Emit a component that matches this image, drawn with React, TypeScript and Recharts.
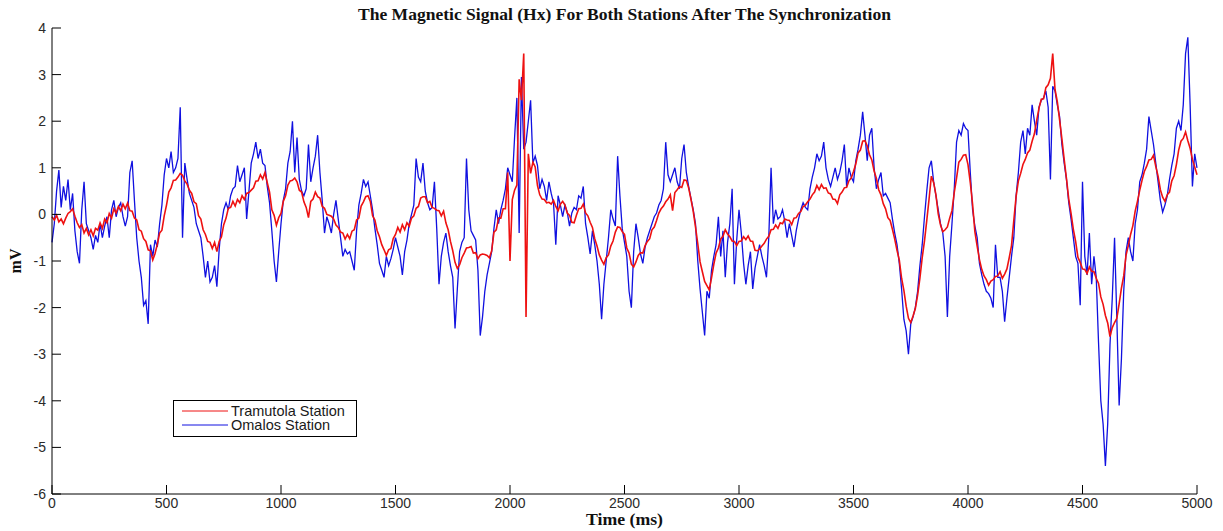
import { LineChart, Line, XAxis, YAxis } from "recharts";

// Hx signal, one sample every 10 ms from 0 to 5000 ms
const STEP_MS = 10;

const TRAMUTOLA = [
  -0.05, -0.12, -0.02, -0.16, -0.1, -0.2, -0.08, 0.02, 0.06, 0.12,
  -0.04, -0.18, -0.28, -0.22, -0.4, -0.3, -0.44, -0.33, -0.46, -0.3,
  -0.34, -0.18, -0.3, -0.1, -0.18, 0.02, -0.08, 0.12, 0.03, 0.17,
  0.08, 0.22, 0.12, 0.24, 0.08, 0.07, -0.08, -0.12, -0.33, -0.36,
  -0.52, -0.58, -0.76, -0.78, -0.98, -0.84, -0.64, -0.4, -0.34, -0.03,
  0.2, 0.48, 0.57, 0.73, 0.74, 0.8, 0.88, 0.84, 0.72, 0.65,
  0.52, 0.45, 0.27, 0.23, -0.03, -0.1, -0.33, -0.43, -0.58, -0.6,
  -0.73, -0.6, -0.8, -0.58, -0.48, -0.22, -0.08, 0.13, 0.15, 0.28,
  0.18, 0.32, 0.25, 0.4, 0.32, 0.45, 0.47, 0.52, 0.57, 0.71,
  0.72, 0.85, 0.76, 0.9, 0.68, 0.48, 0.1, -0.02, -0.23, -0.07,
  0.02, 0.28, 0.4, 0.63, 0.72, 0.73, 0.78, 0.7, 0.52, 0.48,
  0.27, 0.15, -0.07, 0.28, 0.33, 0.48, 0.38, 0.35, 0.17, 0.13,
  0.0, -0.02, -0.04, -0.1, -0.23, -0.28, -0.38, -0.4, -0.53, -0.43,
  -0.52, -0.36, -0.33, -0.12, -0.08, 0.18, 0.27, 0.38, 0.4, 0.28,
  -0.03, -0.12, -0.35, -0.48, -0.65, -0.76, -0.88, -0.76, -0.73, -0.52,
  -0.43, -0.28, -0.38, -0.22, -0.33, -0.18, -0.25, -0.08, -0.03, 0.13,
  0.17, 0.35, 0.38, 0.38, 0.25, 0.28, 0.15, 0.13, 0.09, 0.08,
  -0.03, 0.07, -0.18, -0.33, -0.58, -0.78, -1.03, -1.16, -1.08, -0.93,
  -0.83, -0.72, -0.71, -0.69, -0.83, -0.82, -0.95, -0.87, -0.85, -0.86,
  -0.88, -0.93, -0.78, -0.38, -0.33, -0.08, -0.08, 0.12, 0.12, 0.9,
  -1.0, 0.32, 0.52, 0.63, 2.9, 2.45, 3.45, -2.2, 1.3, 0.88,
  1.12, 1.02, 0.62, 0.42, 0.33, 0.32, 0.25, 0.26, 0.22, 0.3,
  0.17, 0.08, 0.22, 0.28, 0.2, 0.03, -0.02, -0.17, -0.18, -0.02,
  0.12, 0.13, 0.22, 0.03, -0.03, -0.17, -0.28, -0.52, -0.68, -0.87,
  -0.98, -1.07, -0.93, -0.87, -0.68, -0.57, -0.38, -0.27, -0.28, -0.37,
  -0.43, -0.72, -0.83, -1.07, -1.13, -1.02, -0.88, -0.82, -0.83, -0.67,
  -0.58, -0.52, -0.33, -0.27, -0.13, 0.03, 0.12, 0.18, 0.27, 0.33,
  0.42, 0.08, 0.47, 0.53, 0.6, 0.58, 0.74, 0.73, 0.57, 0.33,
  0.07, -0.27, -0.63, -1.02, -1.23, -1.44, -1.53, -1.62, -1.36, -1.07,
  -0.83, -0.72, -0.53, -0.47, -0.33, -0.42, -0.48, -0.57, -0.58, -0.67,
  -0.58, -0.57, -0.48, -0.54, -0.46, -0.57, -0.58, -0.77, -0.78, -0.74,
  -0.68, -0.62, -0.53, -0.47, -0.33, -0.32, -0.23, -0.3, -0.18, -0.2,
  -0.1, -0.12, -0.13, -0.22, -0.08, -0.07, 0.02, 0.06, 0.17, 0.2,
  0.27, 0.33, 0.42, 0.48, 0.62, 0.53, 0.64, 0.56, 0.57, 0.46,
  0.44, 0.33, 0.32, 0.23, 0.42, 0.48, 0.57, 0.58, 0.72, 0.78,
  0.92, 1.08, 1.32, 1.38, 1.57, 1.58, 1.47, 1.28, 1.17, 0.93,
  0.77, 0.53, 0.42, 0.23, 0.12, -0.07, -0.13, -0.32, -0.53, -0.77,
  -0.98, -1.37, -1.63, -1.97, -2.23, -2.32, -2.18, -2.02, -1.73, -1.37,
  -0.93, -0.57, -0.13, 0.33, 0.82, 0.68, 0.42, 0.01, -0.23, -0.37,
  -0.33, -0.27, -0.08, 0.08, 0.47, 0.78, 1.12, 1.18, 1.27, 1.28,
  1.07, 0.68, 0.22, -0.37, -0.68, -0.97, -1.18, -1.32, -1.4, -1.52,
  -1.43, -1.4, -1.33, -1.32, -1.23, -1.37, -1.28, -1.17, -0.93, -0.67,
  -0.13, 0.38, 0.72, 0.88, 1.07, 1.18, 1.32, 1.38, 1.57, 1.73,
  2.02, 2.28, 2.47, 2.48, 2.72, 2.78, 2.92, 3.45, 2.68, 2.42,
  2.03, 1.62, 1.18, 0.77, 0.33, 0.02, -0.32, -0.58, -0.92, -1.03,
  -1.17, -1.18, -1.27, -1.13, -1.22, -1.23, -1.37, -1.48, -1.77, -1.93,
  -2.17, -2.33, -2.62, -2.43, -2.32, -2.23, -1.92, -1.58, -1.32, -0.88,
  -0.67, -0.43, -0.24, 0.07, 0.28, 0.52, 0.73, 0.92, 1.03, 1.17,
  1.18, 1.27, 1.03, 0.82, 0.53, 0.37, 0.28, 0.42, 0.48, 0.72,
  0.83, 1.07, 1.38, 1.57, 1.63, 1.77, 1.58, 1.42, 1.18, 1.02,
  0.85,
];

const OMALOS = [
  -0.6, -0.2, 0.5, 0.95, 0.15, 0.6, 0.3, 0.75, 0.1, 0.45,
  -0.35, -0.8, -1.05, 0.1, 0.7, -0.2, -0.35, -0.5, -0.75, -0.45,
  -0.6, -0.2, -0.5, -0.25, -0.05, -0.5, 0.1, 0.3, -0.05, 0.15,
  0.25, -0.05, -0.25, -0.05, 0.9, 1.15, 0.3, -0.5, -1.0, -1.35,
  -1.95, -1.85, -2.35, -0.65, -0.9, -0.55, -0.7, -0.2, 0.2, 0.85,
  1.2, 1.0, 1.35, 0.9, 1.0, 1.2, 2.3, -0.5, 1.1, 0.75,
  0.45, 0.3, 0.15, -0.2, -0.35, -0.5, -0.9, -1.35, -1.0, -1.45,
  -1.35, -1.1, -1.55, -0.75, -0.2, 0.1, 0.25, 0.1, 0.4, 0.55,
  0.6, 1.05, 0.7, 0.85, 1.0, -0.1, 0.5, 1.1, 1.3, 1.55,
  1.2, 1.4, 1.1, 1.05, 0.6, 0.25, -0.35, -1.0, -1.45, -0.8,
  -0.2, 0.3, 0.55, 1.1, 1.35, 2.0, 0.9, 1.65, 0.75, 0.5,
  0.4, 0.55, 1.5, 0.7, 1.0, 1.25, 1.7, 0.9, 0.3, -0.4,
  -0.05, -0.2, -0.4, 0.0, 0.3, -0.1, -0.5, -0.9, -0.75, -0.85,
  -0.8, -1.0, -1.2, -0.35, 0.2, 0.45, 0.75, 0.6, 0.7, 0.4,
  0.1, -0.3, -0.65, -1.05, -1.2, -1.35, -0.9, -1.1, -0.95, -0.75,
  -0.5, -0.7, -0.9, -1.3, -0.8, -0.55, -0.2, 0.0, 0.2, 1.2,
  0.8, 0.7, 1.1, 0.5, 0.25, 0.1, 0.15, 0.7, -0.3, -1.5,
  -0.9, -0.6, -0.4, -0.8, -1.1, -1.35, -2.45, -1.6, -0.8, -0.6,
  -0.5, 1.2, 0.1, -0.35, -0.45, -0.55, -1.2, -2.6, -2.2, -1.65,
  -1.3, -1.05, -0.8, -0.3, 0.1, -0.2, 0.1, 0.3, 0.55, 1.0,
  0.85, 0.7, 1.65, 2.5, -0.4, 2.95, 1.4, 1.55, 2.0, 2.45,
  1.1, 1.25, 1.05, 0.55, 0.75, 0.6, 0.3, 0.7, 0.45, 0.25,
  -0.65, 0.4, 0.2, -0.05, 0.2, 0.05, -0.25, 0.03, 0.15, 0.1,
  0.4, 0.35, 0.6, -0.2, -0.5, -0.85, -0.35, -0.65, -1.0, -1.5,
  -2.25, -1.5, -1.0, -0.5, 0.1, -0.1, -0.25, 1.25, 0.4, -0.3,
  -0.6, -0.9, -1.65, -2.0, -0.8, -0.2, -0.5, -0.85, -1.05, -0.7,
  -0.5, -0.35, -0.2, -0.05, 0.03, 0.2, 0.3, 0.55, 1.55, 0.85,
  0.7, 0.85, 1.0, 0.7, 0.55, 1.2, 1.5, 0.9, 0.6, 0.35,
  0.1, -0.2, -1.0, -1.6, -2.1, -2.6, -1.65, -1.8, -1.2, -0.9,
  -0.65, -0.05, -0.9, -0.35, -1.35, -0.6, -0.2, 0.55, -1.5, -0.55,
  0.1, -0.4, -1.05, -1.5, -1.1, -0.8, -1.6, -1.15, -0.9, -0.65,
  -0.9, -1.1, -1.35, -0.5, 1.0, -0.2, 0.1, -0.1, -0.05, 0.1,
  -0.15, -0.5, -0.2, -0.45, -0.7, -0.35, -0.1, 0.1, 0.25, 0.15,
  0.1, 0.55, 0.8, 1.0, 1.3, 1.15, 1.25, 1.55, 1.0, 0.75,
  0.6, 0.8, 1.0, 0.75, 0.9, 1.15, 1.5, 0.6, 1.0, 0.8,
  0.7, 1.15, 1.4, 1.7, 2.2, 1.7, 1.15, 1.7, 1.85, 1.0,
  0.55, 0.75, 0.9, 0.4, 0.45, 0.35, 0.25, -0.1, -0.4, -0.65,
  -1.05, -1.6, -2.25, -2.5, -3.0, -2.35, -2.2, -2.0, -1.65, -1.1,
  -0.65, -0.05, 0.5, 1.0, 1.15, 0.7, 0.4, 0.1, -0.2, -0.4,
  -0.9, -2.2, -0.9, -0.2, 0.55, 1.55, 1.8, 1.7, 1.95, 1.85,
  1.8, 0.9, 0.1, -0.25, -0.5, -1.05, -1.3, -1.5, -1.65, -1.7,
  -1.8, -2.0, -0.65, -1.35, -1.35, -1.65, -2.3, -1.8, -1.35, -0.9,
  -0.5, 0.4, 0.9, 1.55, 1.8, 1.3, 1.85, 1.7, 2.35, 2.0,
  1.7, 2.3, 2.45, 2.5, 2.65, 2.3, 0.75, 2.75, 2.65, 2.35,
  2.1, 1.5, 1.1, 0.75, 0.25, -0.1, -0.5, -0.9, -1.05, -1.95,
  0.7, -0.9, -1.3, -0.4, -1.5, -0.9, -1.35, -2.75, -4.0, -4.5,
  -5.4, -4.5, -2.8, -1.8, -0.5, -2.25, -4.1, -3.1, -1.65, -0.8,
  -0.5, -0.8, -1.0, -0.2, 0.1, 0.7, 0.85, 1.1, 1.4, 2.1,
  1.8, 1.5, 1.1, 0.7, 0.3, 0.05, 0.2, 0.4, 0.75, 1.05,
  1.3, 1.85, 2.0, 1.8, 2.35, 3.45, 3.8, 2.35, 0.6, 1.3,
  1.0,
];

const X_TICKS = [0, 500, 1000, 1500, 2000, 2500, 3000, 3500, 4000, 4500, 5000];
const Y_TICKS = [-6, -5, -4, -3, -2, -1, 0, 1, 2, 3, 4];

const TITLE = "The Magnetic Signal (Hx) For Both Stations After The Synchronization";
const X_LABEL = "Time (ms)";
const Y_LABEL = "mV";

const SERIES = [
  { key: "tramutola", name: "Tramutola Station", color: "#ee1111" },
  { key: "omalos", name: "Omalos Station", color: "#1010e0" },
];

const W = 1223;
const H = 531;
const SANS = "'Liberation Sans', Arial, sans-serif";
const SERIF = "'Liberation Serif', 'Times New Roman', serif";

const rows = TRAMUTOLA.map((v, i) => ({
  t: i * STEP_MS,
  tramutola: v,
  omalos: OMALOS[i],
}));

// matlab style: tick marks point into the axes
function YTick({ x, y, payload }: any) {
  return (
    <g>
      <line x1={x} x2={x + 9} y1={y} y2={y} stroke="#000" strokeWidth={1} />
      <text
        x={x - 6}
        y={y}
        dy="0.36em"
        textAnchor="end"
        fontFamily={SANS}
        fontSize={14}
        fill="#2a2a2a"
      >
        {payload.value}
      </text>
    </g>
  );
}

function XTick({ x, y, payload }: any) {
  return (
    <g>
      <line x1={x} x2={x} y1={y} y2={y - 9} stroke="#000" strokeWidth={1} />
      <text
        x={x}
        y={y + 14}
        textAnchor="middle"
        fontFamily={SANS}
        fontSize={14}
        fill="#2a2a2a"
      >
        {payload.value}
      </text>
    </g>
  );
}

export default function App() {
  const [red, blue] = SERIES;
  return (
    <div
      style={{
        position: "absolute",
        left: 0,
        top: 0,
        width: W,
        height: H,
        background: "#fff",
      }}
    >
      <LineChart
        width={W}
        height={H}
        data={rows}
        margin={{ top: 28, right: 26, bottom: 0, left: 0 }}
      >
        <XAxis
          dataKey="t"
          type="number"
          domain={[0, 5000]}
          ticks={X_TICKS}
          interval={0}
          height={37}
          tickSize={0}
          tickMargin={0}
          tickLine={false}
          axisLine={{ stroke: "#000", strokeWidth: 1 }}
          tick={(p: any) => <XTick {...p} />}
        />
        <YAxis
          type="number"
          domain={[-6, 4]}
          ticks={Y_TICKS}
          interval={0}
          width={52}
          tickSize={0}
          tickMargin={0}
          tickLine={false}
          axisLine={{ stroke: "#000", strokeWidth: 1 }}
          tick={(p: any) => <YTick {...p} />}
        />
        <Line
          dataKey={blue.key}
          name={blue.name}
          type="linear"
          stroke={blue.color}
          strokeWidth={1.3}
          strokeLinejoin="miter"
          dot={false}
          isAnimationActive={false}
        />
        <Line
          dataKey={red.key}
          name={red.name}
          type="linear"
          stroke={red.color}
          strokeWidth={1.6}
          dot={false}
          isAnimationActive={false}
        />
      </LineChart>

      <svg
        width={W}
        height={H}
        style={{ position: "absolute", left: 0, top: 0, pointerEvents: "none" }}
      >
        <text
          x={624.5}
          y={20}
          textAnchor="middle"
          fontFamily={SERIF}
          fontWeight="bold"
          fontSize={17}
          textLength={533}
          lengthAdjust="spacingAndGlyphs"
          fill="#111"
        >
          {TITLE}
        </text>
        <text
          x={624.5}
          y={525}
          textAnchor="middle"
          fontFamily={SERIF}
          fontWeight="bold"
          fontSize={17}
          textLength={77}
          lengthAdjust="spacingAndGlyphs"
          fill="#111"
        >
          {X_LABEL}
        </text>
        <text
          transform="translate(21,261) rotate(-90)"
          textAnchor="middle"
          fontFamily={SERIF}
          fontWeight="bold"
          fontSize={16}
          fill="#111"
        >
          {Y_LABEL}
        </text>

        {/* legend box, lower left of the axes */}
        <rect x={173.5} y={400.5} width={183} height={36} fill="#fff" stroke="#000" strokeWidth={1} />
        {SERIES.map((s, i) => (
          <g key={s.key}>
            <line
              x1={182}
              x2={228}
              y1={411 + i * 14}
              y2={411 + i * 14}
              stroke={s.color}
              strokeWidth={1}
            />
            <text
              x={231}
              y={411 + i * 14}
              dy="0.36em"
              fontFamily={SANS}
              fontSize={14.5}
              fill="#1a1a1a"
            >
              {s.name}
            </text>
          </g>
        ))}
      </svg>
    </div>
  );
}
